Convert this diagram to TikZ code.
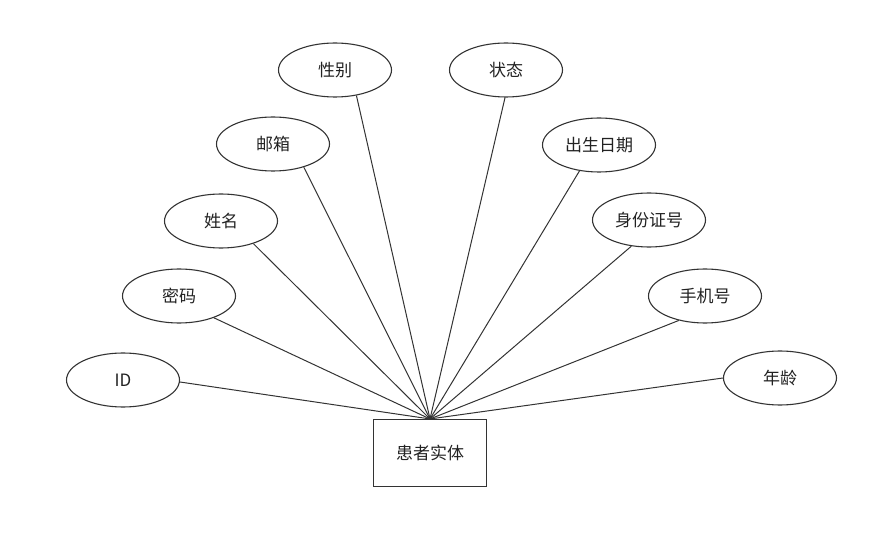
\documentclass[tikz,border=0pt]{standalone}
\usepackage{fontspec}
\setmainfont{Noto Sans CJK SC}
\usetikzlibrary{shapes.geometric}
\definecolor{ln}{HTML}{333333}
\definecolor{tx}{HTML}{222222}
\tikzset{
  attr/.style={ellipse, draw=ln, line width=1.1pt, minimum width=113pt, minimum height=54pt, inner sep=0pt, font=\fontsize{17}{19}\selectfont, text=tx},
  ent/.style={rectangle, draw=ln, line width=1.1pt, minimum width=113pt, minimum height=67pt, inner sep=0pt, font=\fontsize{17}{19}\selectfont, text=tx},
  conn/.style={draw=ln, line width=1pt}
}
\begin{document}
\begin{tikzpicture}[x=1pt,y=-1pt]
\useasboundingbox (0,0) rectangle (892,545);
\node[ent] (e) at (430,453) {患者实体};
\node[attr] (id) at (123,380) {ID};
\node[attr] (mm) at (179,296) {密码};
\node[attr] (xm) at (221,221) {姓名};
\node[attr] (yx) at (273,144) {邮箱};
\node[attr] (xb) at (335,70) {性别};
\node[attr] (zt) at (506,70) {状态};
\node[attr] (cs) at (599,145) {出生日期};
\node[attr] (sf) at (649,220) {身份证号};
\node[attr] (sj) at (705,296) {手机号};
\node[attr] (nl) at (780,378) {年龄};
\foreach \n/\a in {id/-2,mm/-32,xm/-35,yx/-37,xb/-50,zt/-92,cs/-127,sf/-124,sj/-137,nl/180}{
  \draw[conn] (\n.\a) -- (e.north);
}
\end{tikzpicture}
\end{document}
